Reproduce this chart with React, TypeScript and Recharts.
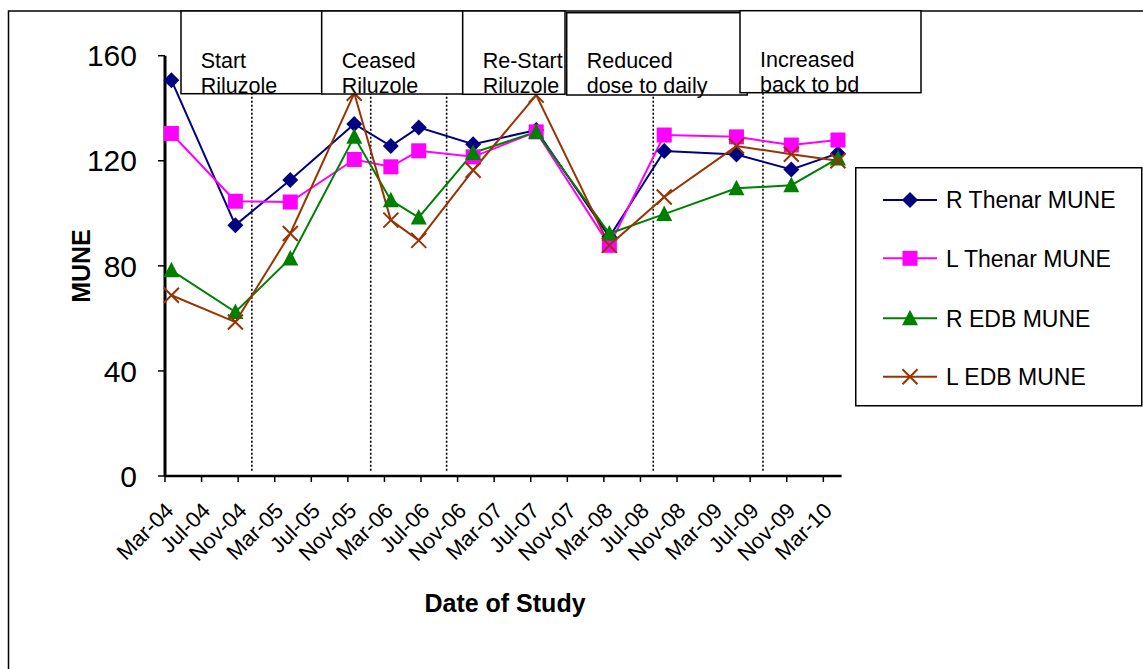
import React from 'react';
import { LineChart, Line, XAxis, YAxis, Legend, ReferenceLine } from 'recharts';

// x = months after Mar-04
const studyMonths = [0.7, 7.7, 13.7, 20.7, 24.7, 27.75, 33.7, 40.6, 48.6, 54.6, 62.5, 68.5, 73.6];
const rThenarMune = [150.7, 95.5, 112.7, 134.0, 125.6, 132.7, 126.3, 131.7, 91.0, 123.7, 122.4, 116.7, 122.8];
const lThenarMune = [130.4, 104.6, 104.3, 120.5, 117.7, 123.8, 121.5, 131.0, 87.8, 129.8, 129.1, 126.0, 127.9];
const rEdbMune = [78.3, 62.4, 82.8, 129.1, 105.0, 98.4, 123.0, 131.0, 92.3, 99.7, 109.5, 110.7, 120.9];
const lEdbMune = [68.8, 58.6, 92.3, 145.7, 97.4, 89.7, 116.4, 145.0, 87.8, 106.2, 125.6, 122.5, 120.0];

const monthLabels = [
  'Mar-04', 'Jul-04', 'Nov-04', 'Mar-05', 'Jul-05', 'Nov-05', 'Mar-06', 'Jul-06', 'Nov-06', 'Mar-07',
  'Jul-07', 'Nov-07', 'Mar-08', 'Jul-08', 'Nov-08', 'Mar-09', 'Jul-09', 'Nov-09', 'Mar-10',
];
const yTicks = [0, 40, 80, 120, 160];

// treatment changes (months after Mar-04) and their notes
const eventMonths = [9.5, 22.5, 30.8, 53.4, 65.4];
const eventNotes = [
  ['Start', 'Riluzole'],
  ['Ceased', 'Riluzole'],
  ['Re-Start', 'Riluzole'],
  ['Reduced', 'dose to daily'],
  ['Increased', 'back to bd'],
];

const xTicks = monthLabels.map((_, i) => i * 4);
const data = studyMonths.map((month, i) => ({
  month,
  rThenar: rThenarMune[i],
  lThenar: lThenarMune[i],
  rEdb: rEdbMune[i],
  lEdb: lEdbMune[i],
}));

const FONT = '"Liberation Sans", Arial, sans-serif';

const series = [
  { key: 'rThenar', name: 'R Thenar MUNE', color: '#000080', shape: 'diamond' },
  { key: 'lThenar', name: 'L Thenar MUNE', color: '#FF00FF', shape: 'square' },
  { key: 'rEdb', name: 'R EDB MUNE', color: '#008000', shape: 'triangle' },
  { key: 'lEdb', name: 'L EDB MUNE', color: '#993300', shape: 'cross' },
];

// note box placement in page pixels
const noteBoxes = [
  { x: 181, y: 11, w: 140.7, h: 82.7, tx: 200.7, ty: 68 },
  { x: 321.7, y: 11, w: 141, h: 83, tx: 341.7, ty: 68 },
  { x: 462.7, y: 11, w: 102.3, h: 83.3, tx: 482.7, ty: 68 },
  { x: 566.7, y: 12.7, w: 180.6, h: 82.3, tx: 586.7, ty: 68.3 },
  { x: 740, y: 10.7, w: 181, h: 82, tx: 760, ty: 66.7 },
];

const Marker = ({ shape, cx, cy, color }: { shape: string; cx: number; cy: number; color: string }) => {
  if (shape === 'diamond') {
    return <path d={`M${cx},${cy - 8}L${cx + 8},${cy}L${cx},${cy + 8}L${cx - 8},${cy}Z`} fill={color} />;
  }
  if (shape === 'square') {
    return <rect x={cx - 7.5} y={cy - 7.5} width={15} height={15} fill={color} />;
  }
  if (shape === 'triangle') {
    return <path d={`M${cx},${cy - 8.5}L${cx + 8},${cy + 7}L${cx - 8},${cy + 7}Z`} fill={color} />;
  }
  return (
    <path
      d={`M${cx - 7.5},${cy - 7.5}L${cx + 7.5},${cy + 7.5}M${cx + 7.5},${cy - 7.5}L${cx - 7.5},${cy + 7.5}`}
      stroke={color}
      strokeWidth={2}
      fill="none"
    />
  );
};

const makeDot = (shape: string, color: string) => (props: any) => {
  const { cx, cy, index } = props;
  if (cx == null || cy == null) return <g key={`${shape}-${index}`} />;
  return <Marker key={`${shape}-${index}`} shape={shape} cx={cx} cy={cy} color={color} />;
};

const DateTick = ({ x, y, payload }: any) => (
  <text
    transform={`translate(${x + 10},${y + 30}) rotate(-45)`}
    textAnchor="end"
    fontSize={22}
    fill="#000"
    fontFamily={FONT}
  >
    {monthLabels[Math.round(payload.value / 4)]}
  </text>
);

// legend rows follow the series order, names come from the legend payload
const LegendBox = ({ payload }: any) => {
  const entries = payload || [];
  const rowY = [33, 91.3, 151.3, 209.7];
  return (
    <svg width={288} height={240} style={{ display: 'block' }}>
      <rect x={0.75} y={0.75} width={286} height={238} fill="#fff" stroke="#000" strokeWidth={1.5} />
      {series.map((s, i) => {
        const entry = entries.find((e: any) => e.dataKey === s.key);
        const y = rowY[i];
        return (
          <g key={s.key}>
            <line x1={28} x2={82} y1={y} y2={y} stroke={s.color} strokeWidth={2} />
            <Marker shape={s.shape} cx={55} cy={y} color={s.color} />
            <text x={91} y={y} dy="0.36em" fontSize={23} fill="#000" fontFamily={FONT}>
              {entry ? entry.value : s.name}
            </text>
          </g>
        );
      })}
    </svg>
  );
};

export default function App() {
  return (
    <div style={{ position: 'absolute', left: 0, top: 0, width: 1143, height: 669, background: '#fff', fontFamily: FONT }}>
      <LineChart
        width={1143}
        height={669}
        data={data}
        margin={{ top: 55.7, right: 301.4, bottom: 133, left: 105 }}
      >
        <XAxis
          type="number"
          dataKey="month"
          domain={[0, 74]}
          ticks={xTicks}
          interval={0}
          height={60}
          tickSize={6}
          tickMargin={0}
          axisLine={{ stroke: '#000', strokeWidth: 2.5 }}
          tickLine={{ stroke: '#000', strokeWidth: 1.5 }}
          tick={<DateTick />}
        />
        <YAxis
          domain={[0, 160]}
          ticks={yTicks}
          interval={0}
          width={60}
          tickSize={7}
          tickMargin={21}
          axisLine={{ stroke: '#000', strokeWidth: 3 }}
          tickLine={{ stroke: '#000', strokeWidth: 1.5 }}
          tick={{ fontSize: 30, fill: '#000', fontFamily: FONT }}
        />
        {eventMonths.map((m) => (
          <ReferenceLine
            key={m}
            segment={[{ x: m, y: 2 }, { x: m, y: 160 }]}
            stroke="#000"
            strokeWidth={1.6}
            strokeDasharray="2 2"
          />
        ))}
        {series.map((s) => (
          <Line
            key={s.key}
            type="linear"
            dataKey={s.key}
            name={s.name}
            stroke={s.color}
            strokeWidth={2}
            dot={makeDot(s.shape, s.color)}
            activeDot={false}
            isAnimationActive={false}
          />
        ))}
        <Legend
          layout="vertical"
          align="center"
          verticalAlign="middle"
          content={<LegendBox />}
          wrapperStyle={{ left: 855, top: 167, width: 288, height: 240 }}
        />
      </LineChart>
      <svg
        width={1143}
        height={669}
        style={{ position: 'absolute', left: 0, top: 0, pointerEvents: 'none' }}
        fontFamily={FONT}
      >
        <path d="M8.5,669V11H1143" fill="none" stroke="#000" strokeWidth={1.5} />
        {noteBoxes.map((b, i) => (
          <g key={i}>
            <rect x={b.x} y={b.y} width={b.w} height={b.h} fill="#fff" stroke="#000" strokeWidth={1.5} />
            <text x={b.tx} y={b.ty} fontSize={21.5} fill="#000">{eventNotes[i][0]}</text>
            <text x={b.tx} y={b.ty + 25} fontSize={21.5} fill="#000">{eventNotes[i][1]}</text>
          </g>
        ))}
        <text x={90} y={266} transform="rotate(-90, 90, 266)" textAnchor="middle" fontSize={25} fontWeight="bold" fill="#000">
          MUNE
        </text>
        <text x={505} y={612} textAnchor="middle" fontSize={25} fontWeight="bold" fill="#000">
          Date of Study
        </text>
      </svg>
    </div>
  );
}
